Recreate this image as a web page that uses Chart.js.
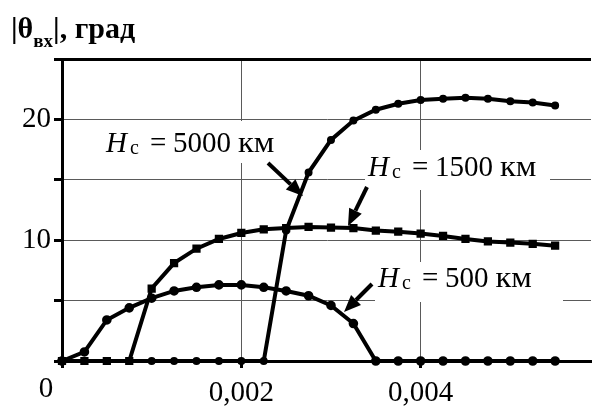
<!DOCTYPE html>
<html>
<head>
<meta charset="utf-8">
<script src="https://cdn.jsdelivr.net/npm/chart.js@4.4.1/dist/chart.umd.min.js"></script>
<style>
    html, body { margin: 0; padding: 0; background: #fff; }
    canvas { display: block; }
</style>
</head>
<body>
<canvas id="theta-chart" width="599" height="409"></canvas>
<script>
// x values (same grid for all three curves)
const xValues = [0, 0.00025, 0.0005, 0.00075, 0.001, 0.00125, 0.0015, 0.00175, 0.002, 0.00225,
    0.0025, 0.00275, 0.003, 0.00325, 0.0035, 0.00375, 0.004, 0.00425, 0.0045, 0.00475, 0.005, 0.00525, 0.0055];

// |theta_in|, deg
const theta500 = [0, 0.75, 3.4, 4.4, 5.2, 5.8, 6.1, 6.3, 6.3, 6.1,
    5.8, 5.4, 4.6, 3.1, 0, 0, 0, 0, 0, 0, 0, 0, 0];
const theta1500 = [0, 0, 0, 0, 6.0, 8.1, 9.3, 10.1, 10.6, 10.9,
    11.0, 11.1, 11.05, 11.0, 10.8, 10.7, 10.55, 10.35, 10.1, 9.9, 9.8, 9.7, 9.55];
const theta5000 = [0, 0, 0, 0, 0, 0, 0, 0, 0, 0,
    10.8, 15.6, 18.3, 19.9, 20.8, 21.3, 21.6, 21.7, 21.8, 21.7, 21.5, 21.4, 21.15];

const seriesHeights = ['500', '1500', '5000'];
const xTickLabels = ['0', '0,002', '0,004'];
const yTickLabels = [10, 20];

const serif = '"Liberation Serif", "Times New Roman", serif';

function toPoints(values) {
    return xValues.map((x, i) => ({ x: x, y: values[i] }));
}

function drawArrow(ctx, x1, y1, x2, y2) {
    const angle = Math.atan2(y2 - y1, x2 - x1);
    const headLen = 17;
    const headHalf = 7;
    const bx = x2 - headLen * Math.cos(angle);
    const by = y2 - headLen * Math.sin(angle);
    ctx.beginPath();
    ctx.moveTo(x1, y1);
    ctx.lineTo(bx, by);
    ctx.lineWidth = 4;
    ctx.strokeStyle = '#000';
    ctx.stroke();
    ctx.beginPath();
    ctx.moveTo(x2, y2);
    ctx.lineTo(bx + headHalf * Math.sin(angle), by - headHalf * Math.cos(angle));
    ctx.lineTo(bx - headHalf * Math.sin(angle), by + headHalf * Math.cos(angle));
    ctx.closePath();
    ctx.fillStyle = '#000';
    ctx.fill();
}

// "Hc = NNNN км" with italic H and small subscript c
function drawCurveLabel(ctx, x, baseline, height) {
    ctx.fillStyle = '#000';
    ctx.textBaseline = 'alphabetic';
    ctx.textAlign = 'left';
    ctx.font = 'italic 29px ' + serif;
    ctx.fillText('H', x, baseline);
    ctx.font = '20px ' + serif;
    ctx.fillText('c', x + 24, baseline + 2);
    ctx.font = '29px ' + serif;
    ctx.fillText('=', x + 44, baseline);
    ctx.fillText(height, x + 67, baseline);
    const kx = x + 67 + ctx.measureText(height).width + 7;
    ctx.save();
    ctx.translate(kx, baseline);
    ctx.scale(1.12, 1);
    ctx.fillText('км', 0, 0);
    ctx.restore();
}

const decorations = {
    id: 'decorations',
    afterDraw(chart) {
        const ctx = chart.ctx;
        ctx.save();

        // axis title |θвх|, град
        ctx.fillStyle = '#000';
        ctx.textBaseline = 'alphabetic';
        ctx.textAlign = 'left';
        ctx.font = 'bold 30px ' + serif;
        let tx = 11;
        ctx.fillText('|θ', tx, 38);
        tx += ctx.measureText('|θ').width;
        ctx.font = 'bold 19px ' + serif;
        ctx.fillText('вх', tx, 47);
        tx += ctx.measureText('вх').width;
        ctx.font = 'bold 30px ' + serif;
        ctx.fillText('|, град', tx, 38);

        // origin label
        ctx.font = '29px ' + serif;
        ctx.textAlign = 'center';
        ctx.fillText('0', 46, 397);

        // white boxes behind labels
        ctx.fillStyle = '#fff';
        ctx.fillRect(100, 121, 182, 42);
        ctx.fillRect(365, 150, 185, 40);
        ctx.fillRect(375, 262, 188, 40);

        drawCurveLabel(ctx, 106, 152, seriesHeights[2]);
        drawCurveLabel(ctx, 368, 176, seriesHeights[1]);
        drawCurveLabel(ctx, 378, 287, seriesHeights[0]);

        drawArrow(ctx, 268, 163, 303, 196);
        drawArrow(ctx, 367, 187, 348, 226);
        drawArrow(ctx, 372, 284, 344, 312);

        ctx.restore();
    }
};

const gridColor = '#5a5a5a';

new Chart(document.getElementById('theta-chart'), {
    type: 'line',
    data: {
        datasets: [
            {
                label: 'Hc = ' + seriesHeights[0] + ' км',
                data: toPoints(theta500),
                borderColor: '#000',
                backgroundColor: '#000',
                borderWidth: 4,
                pointStyle: 'circle',
                pointRadius: 2.8,
                tension: 0,
                clip: false
            },
            {
                label: 'Hc = ' + seriesHeights[1] + ' км',
                data: toPoints(theta1500),
                borderColor: '#000',
                backgroundColor: '#000',
                borderWidth: 4,
                pointStyle: 'rect',
                pointRadius: 3,
                tension: 0,
                clip: false
            },
            {
                label: 'Hc = ' + seriesHeights[2] + ' км',
                data: toPoints(theta5000),
                borderColor: '#000',
                backgroundColor: '#000',
                borderWidth: 4,
                pointStyle: 'circle',
                pointRadius: 2,
                tension: 0,
                clip: false
            }
        ]
    },
    options: {
        responsive: false,
        animation: false,
        devicePixelRatio: 1,
        layout: {
            padding: { top: 59, right: 0, bottom: 0, left: 0 }
        },
        plugins: {
            legend: { display: false },
            tooltip: { enabled: false },
            title: { display: false }
        },
        scales: {
            x: {
                type: 'linear',
                min: 0,
                max: 0.0059,
                border: { display: true, color: '#000', width: 3 },
                grid: {
                    color: gridColor,
                    lineWidth: 1,
                    drawTicks: true,
                    tickLength: 7,
                    tickWidth: 3,
                    tickColor: '#000'
                },
                ticks: {
                    stepSize: 0.002,
                    includeBounds: false,
                    autoSkip: false,
                    maxRotation: 0,
                    padding: 8,
                    color: '#000',
                    font: { family: serif, size: 29 },
                    callback: function (value) {
                        const idx = Math.round(value / 0.002);
                        // origin "0" is drawn separately, shifted left
                        if (idx === 0) return '';
                        return xTickLabels[idx] || '';
                    }
                },
                afterFit: function (scale) {
                    scale.height = 48;
                    scale.paddingLeft = 0;
                    scale.paddingRight = 0;
                }
            },
            y: {
                min: 0,
                max: 25,
                border: { display: true, color: '#000', width: 3 },
                grid: {
                    color: function (context) {
                        return context.tick && context.tick.value === 25 ? '#000' : gridColor;
                    },
                    lineWidth: function (context) {
                        return context.tick && context.tick.value === 25 ? 3 : 1;
                    },
                    drawTicks: true,
                    tickLength: 8,
                    tickWidth: 3,
                    tickColor: '#000'
                },
                ticks: {
                    stepSize: 5,
                    padding: 3,
                    color: '#000',
                    font: { family: serif, size: 29 },
                    callback: function (value) {
                        return yTickLabels.includes(value) ? String(value) : '';
                    }
                },
                afterFit: function (scale) {
                    scale.width = 62;
                    scale.paddingTop = 0;
                    scale.paddingBottom = 0;
                }
            }
        }
    },
    plugins: [decorations]
});
</script>
</body>
</html>
